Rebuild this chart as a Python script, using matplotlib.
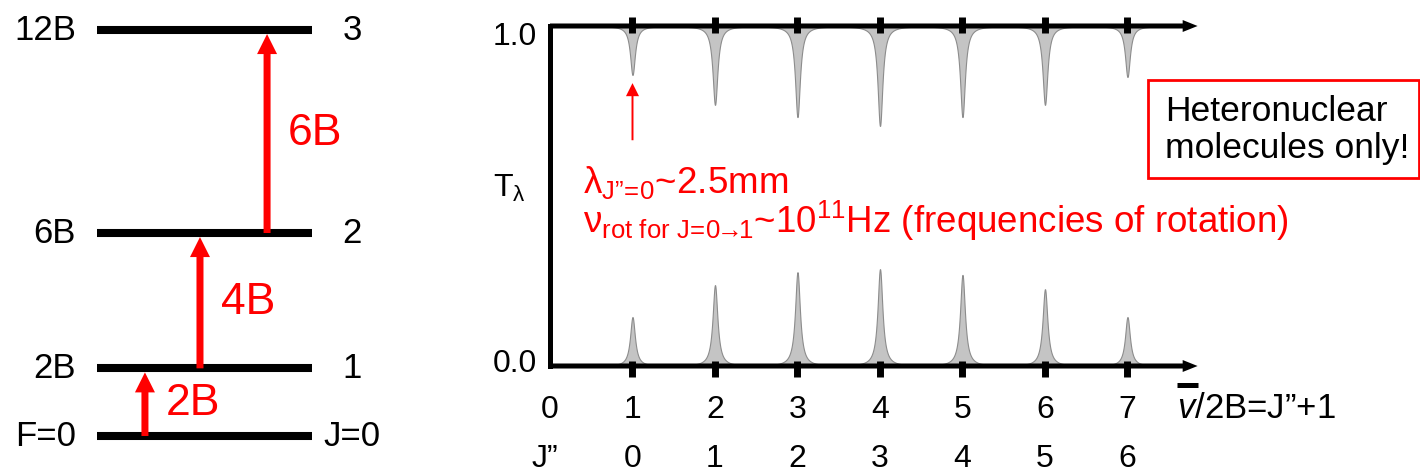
import numpy as np
import matplotlib
matplotlib.use('Agg')
import matplotlib.pyplot as plt
from matplotlib.patches import Rectangle

plt.rcParams['font.family'] = ['Liberation Sans', 'DejaVu Sans']
plt.rcParams['mathtext.fontset'] = 'custom'
plt.rcParams['mathtext.rm'] = 'Liberation Sans'
plt.rcParams['mathtext.it'] = 'Liberation Sans:italic'
plt.rcParams['mathtext.bf'] = 'Liberation Sans:bold'

# energy level diagram (units of B)
level_energy = [0, 2, 6, 12]
level_left = ['F=0', '2B', '6B', '12B']
level_right = ['J=0', '1', '2', '3']
trans_labels = ['2B', '4B', '6B']
trans_x = [0.223, 0.479, 0.791]

# rotational spectrum
line_pos = [1, 2, 3, 4, 5, 6, 7]
dip_depth = [0.144, 0.232, 0.268, 0.294, 0.268, 0.232, 0.150]
peak_height = [0.144, 0.238, 0.276, 0.285, 0.268, 0.226, 0.144]
nu_labels = ['0', '1', '2', '3', '4', '5', '6', '7']
j_labels = ['0', '1', '2', '3', '4', '5', '6']

RED = '#ff0000'
FS = 23

fig = plt.figure(figsize=(14.2, 4.75), dpi=100)

# ---- left panel: levels ----
axl = fig.add_axes([97 / 1420, 39 / 475, 215 / 1420, 406 / 475])
axl.set_xlim(0, 1)
axl.set_ylim(0, 12)
axl.axis('off')
for e, lt, rt in zip(level_energy, level_left, level_right):
    axl.plot([0, 1], [e, e], color='black', lw=5.8, solid_capstyle='butt', clip_on=False)
    axl.text(-0.098, e, lt, ha='right', va='center', fontsize=25)
    axl.text(1.186, e, rt, ha='center', va='center', fontsize=25)

for i, (x, lab) in enumerate(zip(trans_x, trans_labels)):
    lo, hi = level_energy[i], level_energy[i + 1]
    axl.annotate('', xy=(x, hi - 0.12), xytext=(x, lo),
                 arrowprops=dict(arrowstyle='simple,head_length=1.0,head_width=1.0,tail_width=0.35',
                                 mutation_scale=14.4, color=RED, lw=0, shrinkA=0, shrinkB=0),
                 annotation_clip=False)
    axl.text(x + 0.222, (lo + hi) / 2 - 0.05, lab, ha='center', va='center',
             fontsize=32, color=RED)

# ---- right panel: spectrum ----
ax = fig.add_axes([550 / 1420, 109 / 475, 647.6 / 1420, 340 / 475])
ax.set_xlim(0, 7.85)
ax.set_ylim(0, 1)
ax.axis('off')

gam = 0.036
for x0, d, h in zip(line_pos, dip_depth, peak_height):
    xx = np.linspace(x0 - 0.45, x0 + 0.45, 800)
    prof = gam ** 2 / ((xx - x0) ** 2 + gam ** 2)
    ax.fill_between(xx, 1 - d * prof, 1, color='#c4c4c4', ec='#8c8c8c', lw=0.8, zorder=1)
    ax.fill_between(xx, 0, h * prof, color='#c4c4c4', ec='#8c8c8c', lw=0.8, zorder=1)

ax.plot([0, 0], [0, 1], color='black', lw=3.6, solid_capstyle='projecting', zorder=3, clip_on=False)
for yy in (0, 1):
    ax.annotate('', xy=(7.85, yy), xytext=(0, yy),
                arrowprops=dict(arrowstyle='simple,head_length=1.25,head_width=1.0,tail_width=0.42',
                                mutation_scale=8.6, color='black', lw=0, shrinkA=0, shrinkB=0),
                annotation_clip=False, zorder=3)
ax.plot(line_pos, [1.004] * len(line_pos), ls='none', marker='|', ms=11, mew=5,
        color='black', zorder=4, clip_on=False)
ax.plot(line_pos, [-0.01] * len(line_pos), ls='none', marker='|', ms=11, mew=5,
        color='black', zorder=4, clip_on=False)

ax.text(-0.16, 0.944, '1.0', ha='right', va='baseline', fontsize=FS)
ax.text(-0.16, -0.018, '0.0', ha='right', va='baseline', fontsize=FS)
ax.text(-0.69, 0.497, r'T$_\mathrm{λ}$', ha='left', va='baseline', fontsize=FS)

for i, lab in enumerate(nu_labels):
    ax.text(i, -0.153, lab, ha='center', va='baseline', fontsize=FS)
ax.text(-0.06, -0.297, 'J”', ha='center', va='baseline', fontsize=FS)
for x0, lab in zip(line_pos, j_labels):
    ax.text(x0, -0.297, lab, ha='center', va='baseline', fontsize=FS)

ax.text(7.60, -0.153, r'$\mathit{v}$/2B=J”+1', ha='left', va='baseline', fontsize=25)
ax.plot([7.60, 7.86], [-0.056, -0.056], color='black', lw=3.6, solid_capstyle='butt', clip_on=False)

# red annotation
ax.annotate('', xy=(1, 0.832), xytext=(1, 0.664),
            arrowprops=dict(arrowstyle='simple,head_length=1.0,head_width=1.0,tail_width=0.15',
                            mutation_scale=9.4, color=RED, lw=0, shrinkA=0, shrinkB=0))
ax.text(0.40, 0.51, r'$\mathrm{λ_{J”\!=\!0}}$~2.5mm', ha='left', va='baseline',
        fontsize=26.5, color=RED)
ax.text(0.40, 0.39, r'$\mathrm{ν_{rot\ for\ J\!=\!0\!→\!1}}$~10$^{11}$Hz (frequencies of rotation)',
        ha='left', va='baseline', fontsize=26.5, color=RED)

# note box
fig.patches.append(Rectangle((1148 / 1420, (475 - 178) / 475), 271 / 1420, 98 / 475,
                             transform=fig.transFigure, fc='white', ec=RED, lw=2))
fig.text(1165 / 1420, (475 - 130) / 475, 'Heteronuclear\nmolecules only!', ha='left',
         va='center', fontsize=25.5, linespacing=1.15)

fig.savefig('out.png', dpi=100)
